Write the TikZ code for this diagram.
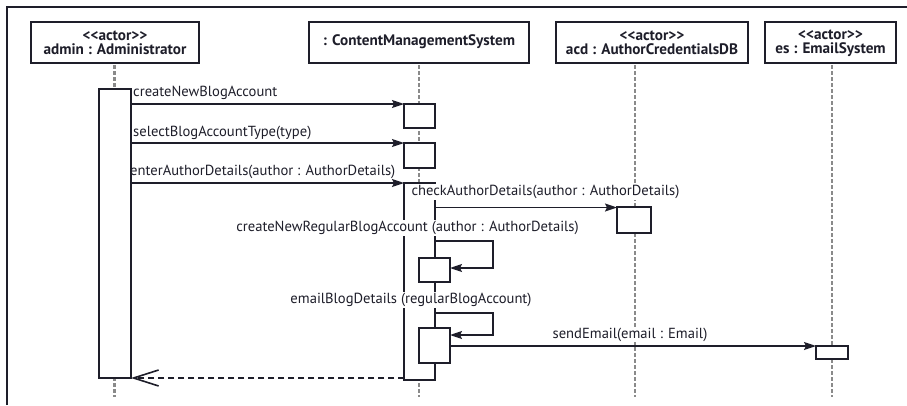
\documentclass[tikz,border=0pt]{standalone}
\usepackage{fontspec}
\setmainfont{PT Sans}[Ligatures=ResetAll]
\usetikzlibrary{arrows.meta}
\definecolor{ink}{HTML}{1E1E2A}
\definecolor{lifegray}{HTML}{8A8A8A}
\newcommand{\stereo}{<\kern0pt<actor>\kern0pt>}
\begin{document}
\begin{tikzpicture}[x=1pt,y=-1pt,
  font=\fontsize{14.6}{15}\selectfont, text=ink,
  headbox/.style={draw=ink, line width=2.6pt, fill=white, inner sep=0pt},
  headtext/.style={font=\fontsize{15.2}{14}\selectfont\bfseries, align=center, inner sep=0pt},
  lifeline/.style={draw=lifegray, line width=2.4pt, dash pattern=on 4pt off 2pt},
  actbox/.style={draw=ink, line width=2pt, fill=white},
  msg/.style={draw=ink, line width=1.6pt, -{Stealth[length=12pt,width=8pt,inset=2pt]}},
  ret/.style={draw=ink, line width=1.6pt, dash pattern=on 6pt off 4pt,
     -{Straight Barb[length=25pt,width=16pt,line width=1.6pt]}},
  lbl/.style={fill=white, inner xsep=1pt, inner ysep=1pt},
  lbll/.style={inner xsep=1pt, inner ysep=1pt},
]
\useasboundingbox (0,0) rectangle (907,405);
% frame
\draw[ink, line width=1.3pt] (7,405) -- (7,7) -- (907,7);

% headers
\draw[headbox] (31,22) rectangle (199,63);
\node[headtext] (hadmin) at (115,43) {\stereo\\admin : Administrator};
\draw[headbox] (309,22) rectangle (529,63);
\node[headtext] (hcms) at (419,42) {: ContentManagementSystem};
\draw[headbox] (556,22) rectangle (748,63);
\node[headtext] (hacd) at (652,43) {\stereo\\acd : AuthorCredentialsDB};
\draw[headbox] (765,22) rectangle (896,63);
\node[headtext] (hes) at (830.5,43) {\stereo\\es : EmailSystem};

% lifelines
\coordinate (la0) at (114.5,65); \coordinate (la1) at (114.5,397);
\coordinate (lc0) at (419,65);   \coordinate (lc1) at (419,397);
\coordinate (ld0) at (635,65);   \coordinate (ld1) at (635,397);
\coordinate (le0) at (832,65);   \coordinate (le1) at (832,397);
\draw[lifeline] (la0) -- (la1);
\draw[lifeline] (lc0) -- (lc1);
\draw[lifeline] (ld0) -- (ld1);
\draw[lifeline] (le0) -- (le1);

% activations (CMS, acd, es)
\draw[actbox] (404,104) rectangle (435,128);
\draw[actbox] (404,143) rectangle (435,168);
\draw[actbox] (404,183) rectangle (435,380);
\draw[actbox] (617,207) rectangle (651,233);
\draw[actbox] (816,345.5) rectangle (848,359);

\coordinate (a1s) at (131,104);   \coordinate (a1e) at (404,104);
\coordinate (a2s) at (131,143);   \coordinate (a2e) at (404,143);
\coordinate (a3s) at (131,183);   \coordinate (a3e) at (404,183);
\coordinate (c1s) at (435,207.5); \coordinate (c1e) at (617,207.5);
\coordinate (s1s) at (435,241);   \coordinate (s1a) at (493,241);
\coordinate (s1b) at (493,268);   \coordinate (s1e) at (450,268);
\coordinate (s2s) at (435,313);   \coordinate (s2a) at (493,313);
\coordinate (s2b) at (493,335);   \coordinate (s2e) at (450,335);
\coordinate (m1s) at (450,346);   \coordinate (m1e) at (816,346);
\coordinate (rs) at (404,378);    \coordinate (re) at (131,378);

\draw[msg] (a1s) -- (a1e);
\draw[msg] (a2s) -- (a2e);
\draw[msg] (a3s) -- (a3e);
\draw[msg] (c1s) -- (c1e);
\draw[msg] (s1s) -- (s1a) -- (s1b) -- (s1e);
\draw[msg] (s2s) -- (s2a) -- (s2b) -- (s2e);
\draw[msg] (m1s) -- (m1e);
\draw[ret] (rs) -- (re);

% nested activations
\draw[actbox] (419,258) rectangle (450,282);
\draw[actbox] (419,328) rectangle (450,363);

% labels
\node[lbll, anchor=west] (t1) at (132,93) {createNewBlogAccount};
\node[lbll, anchor=west] (t2) at (132,133) {selectBlogAccountType(type)};
\node[lbll, anchor=west] (t3) at (129,172) {enterAuthorDetails(author : AuthorDetails)};
\node[lbl] (t4) at (545.5,192) {checkAuthorDetails(author : AuthorDetails)};
\node[lbl] (t5) at (407.5,228) {createNewRegularBlogAccount (author : AuthorDetails)};
\node[lbl] (t6) at (411,300) {emailBlogDetails (regularBlogAccount)};
\node[lbl] (t7) at (630,334.5) {sendEmail(email : Email)};

% admin activation
\draw[actbox] (99,89) rectangle (131,378);
\end{tikzpicture}
\end{document}
